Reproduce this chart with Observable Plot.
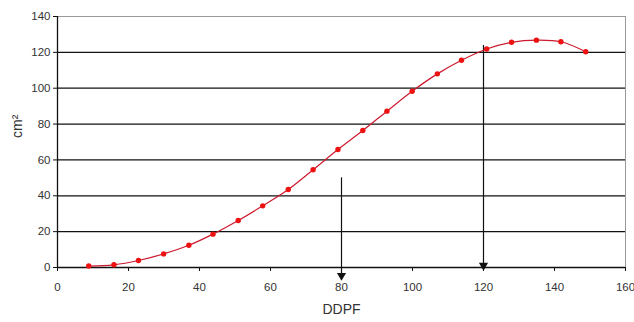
<!DOCTYPE html>
<html>
<head>
<meta charset="utf-8">
<script src="https://cdn.jsdelivr.net/npm/d3@7"></script>
<script src="https://cdn.jsdelivr.net/npm/@observablehq/plot@0.6"></script>
<style>
  html, body { margin: 0; padding: 0; background: #fff; }
  svg { font-family: "Liberation Sans", Arial, sans-serif; }
</style>
</head>
<body>
<div id="chart"></div>
<script>
const ddpf = [8.8, 15.9, 22.8, 29.9, 37, 43.8, 50.9, 57.8, 65, 72, 79, 86, 92.8, 99.9, 107, 113.8, 120.9, 127.9, 134.9, 141.8, 148.8];
const area = [0.8, 1.5, 3.9, 7.6, 12.4, 18.6, 26.2, 34.4, 43.5, 54.5, 65.8, 76.4, 87.2, 98.3, 108, 115.6, 121.9, 125.6, 126.8, 125.9, 120.3];
const xTicks = [0, 20, 40, 60, 80, 100, 120, 140, 160];
const yTicks = [0, 20, 40, 60, 80, 100, 120, 140];
const gridY = [20, 40, 60, 80, 100, 120];
const arrowX = [80, 120];
const arrowTop = [50, 123.8];
const arrowBottom = [-5.6, 0];

const data = ddpf.map((x, i) => ({x, y: area[i]}));
const arrows = arrowX.map((x, i) => ({x, top: arrowTop[i], bottom: arrowBottom[i]}));

const textColor = "#333";

const chart = Plot.plot({
  width: 634,
  height: 322,
  marginLeft: 57,
  marginRight: 9,
  marginTop: 16,
  marginBottom: 55,
  style: {fontFamily: "'Liberation Sans', Arial, sans-serif", fontSize: "11.5px", color: textColor, background: "#fff"},
  x: {domain: [0, 160]},
  y: {domain: [0, 140]},
  marks: [
    Plot.frame({stroke: "#999"}),
    Plot.ruleY(gridY, {stroke: "#111", strokeWidth: 1.3}),
    Plot.ruleY([0], {stroke: "#111", strokeWidth: 1.3}),
    Plot.ruleX([0], {stroke: "#111", strokeWidth: 1.3}),
    Plot.axisX({ticks: xTicks, tickSize: 4, tickPadding: 11, tickFormat: d => String(d), label: null, stroke: "#111", fill: textColor}),
    Plot.axisY({ticks: yTicks, tickSize: 4, tickPadding: 3, tickFormat: d => String(d), label: null, stroke: "#111", fill: textColor}),
    Plot.ruleX(arrows, {x: "x", y1: "top", y2: "bottom", stroke: "#111", strokeWidth: 1.2}),
    Plot.dot(arrows, {x: "x", y: "bottom", symbol: "triangle", rotate: 180, r: 3.4, fill: "#111", stroke: "none", dy: -2}),
    Plot.line(data, {x: "x", y: "y", curve: "catmull-rom", stroke: "#cc1a2e", strokeWidth: 1.2}),
    Plot.dot(data, {x: "x", y: "y", r: 2.7, fill: "#ee1111", stroke: "none"}),
    Plot.text(["cm²"], {frameAnchor: "left", dx: -40, dy: -4, rotate: -90, fontSize: 14, fill: textColor}),
    Plot.text(["DDPF"], {frameAnchor: "bottom", dy: 46, fontSize: 14, fill: textColor})
  ]
});
document.getElementById("chart").append(chart);
</script>
</body>
</html>
